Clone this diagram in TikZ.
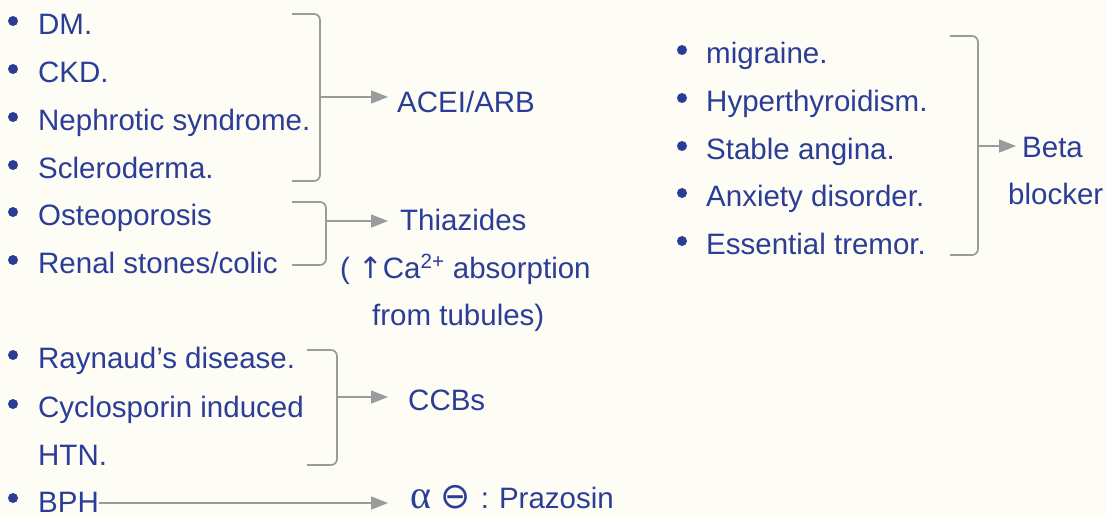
\documentclass[tikz,border=0pt]{standalone}
\usepackage{fontspec}
\setmainfont{Liberation Sans}
\newfontfamily\symfont{DejaVu Sans}
\newfontfamily\greekfont{Liberation Serif}
\usetikzlibrary{arrows.meta}
\definecolor{bg}{HTML}{FDFDF5}
\definecolor{ink}{HTML}{2B3D96}
\definecolor{brk}{HTML}{9B9B9B}
\begin{document}
\begin{tikzpicture}[x=1pt,y=-1pt,
  txt/.style={anchor=base west, inner sep=0pt, text=ink, font=\fontsize{29.5}{34}\selectfont},
  bul/.style={circle, fill=ink, inner sep=0pt, minimum size=10pt},
  brace/.style={draw=brk, line width=1.7pt, rounded corners=6pt},
  conn/.style={draw=brk, line width=1.7pt, -{Triangle[length=17pt,width=13pt]}}]
\fill[bg] (0,0) rectangle (1106,517);
\useasboundingbox (0,0) rectangle (1106,517);

% left column: ACEI/ARB group
\node[bul] (b1) at (13,21) {};  \node[txt] (dm)   at (38,34)  {DM.};
\node[bul] (b2) at (13,69) {};  \node[txt] (ckd)  at (38,82)  {CKD.};
\node[bul] (b3) at (13,117) {}; \node[txt] (neph) at (38,130) {Nephrotic syndrome.};
\node[bul] (b4) at (13,165) {}; \node[txt] (scl)  at (38,178) {Scleroderma.};
\coordinate (g1t) at (292,14);
\coordinate (g1b) at (292,181);
\coordinate (g1m) at (320,97);
\draw[brace] (g1t) -| (g1m) |- (g1b);
\node[txt] (acei) at (397,112) {ACEI/ARB};
\draw[conn] (g1m) -- ([xshift=-9pt]g1m -| acei.west);

% Thiazides group
\node[bul] (b5) at (13,212) {}; \node[txt] (ost) at (38,225) {Osteoporosis};
\node[bul] (b6) at (13,260) {}; \node[txt] (ren) at (38,273) {Renal stones/colic};
\coordinate (g2t) at (292,202);
\coordinate (g2b) at (292,265);
\coordinate (g2m) at (326,221);
\draw[brace] (g2t) -| (g2m) |- (g2b);
\node[txt] (thz) at (400,230) {Thiazides};
\draw[conn] (g2m) -- ([xshift=-12pt]g2m -| thz.west);
\node[txt] (ca) at (340,278) {( {\symfont ↑}Ca\textsuperscript{2+} absorption};
\node[txt] (tub) at (372,325) {from tubules)};

% CCBs group
\node[bul] (b7) at (13,355) {}; \node[txt] (ray) at (38,368) {Raynaud’s disease.};
\node[bul] (b8) at (13,404) {}; \node[txt] (cyc) at (38,417) {Cyclosporin induced};
\node[txt] (htn) at (38,465) {HTN.};
\coordinate (g3t) at (307,350);
\coordinate (g3b) at (307,465);
\coordinate (g3m) at (337,397);
\draw[brace] (g3t) -| (g3m) |- (g3b);
\node[txt] (ccb) at (408,410) {CCBs};
\draw[conn] (g3m) -- ([xshift=-20pt]g3m -| ccb.west);

% BPH
\node[bul] (b9) at (13,498) {}; \node[txt] (bph) at (38,512) {BPH};
\node[txt] (praz) at (410,508) {{\greekfont\fontsize{40}{40}\selectfont α}\,\,{\symfont\fontsize{36}{36}\selectfont\char"2296}\,\,:\,\,Prazosin};
\draw[conn] (bph.east |- 0,503) -- ([xshift=-22pt]praz.west |- 0,503);

% right column: Beta blocker group
\node[bul] (r1) at (682,50) {};  \node[txt] (mig) at (706,63)  {migraine.};
\node[bul] (r2) at (682,98) {};  \node[txt] (hyp) at (706,111) {Hyperthyroidism.};
\node[bul] (r3) at (682,146) {}; \node[txt] (sta) at (706,159) {Stable angina.};
\node[bul] (r4) at (682,193) {}; \node[txt] (anx) at (706,206) {Anxiety disorder.};
\node[bul] (r5) at (682,241) {}; \node[txt] (ess) at (706,254) {Essential tremor.};
\coordinate (g4t) at (950,36);
\coordinate (g4b) at (950,255);
\coordinate (g4m) at (978,146);
\draw[brace] (g4t) -| (g4m) |- (g4b);
\node[txt] (beta) at (1022,157) {Beta};
\node[txt] (blk) at (1008,204) {blocker};
\draw[conn] (g4m) -- ([xshift=-6pt]g4m -| beta.west);
\end{tikzpicture}
\end{document}
